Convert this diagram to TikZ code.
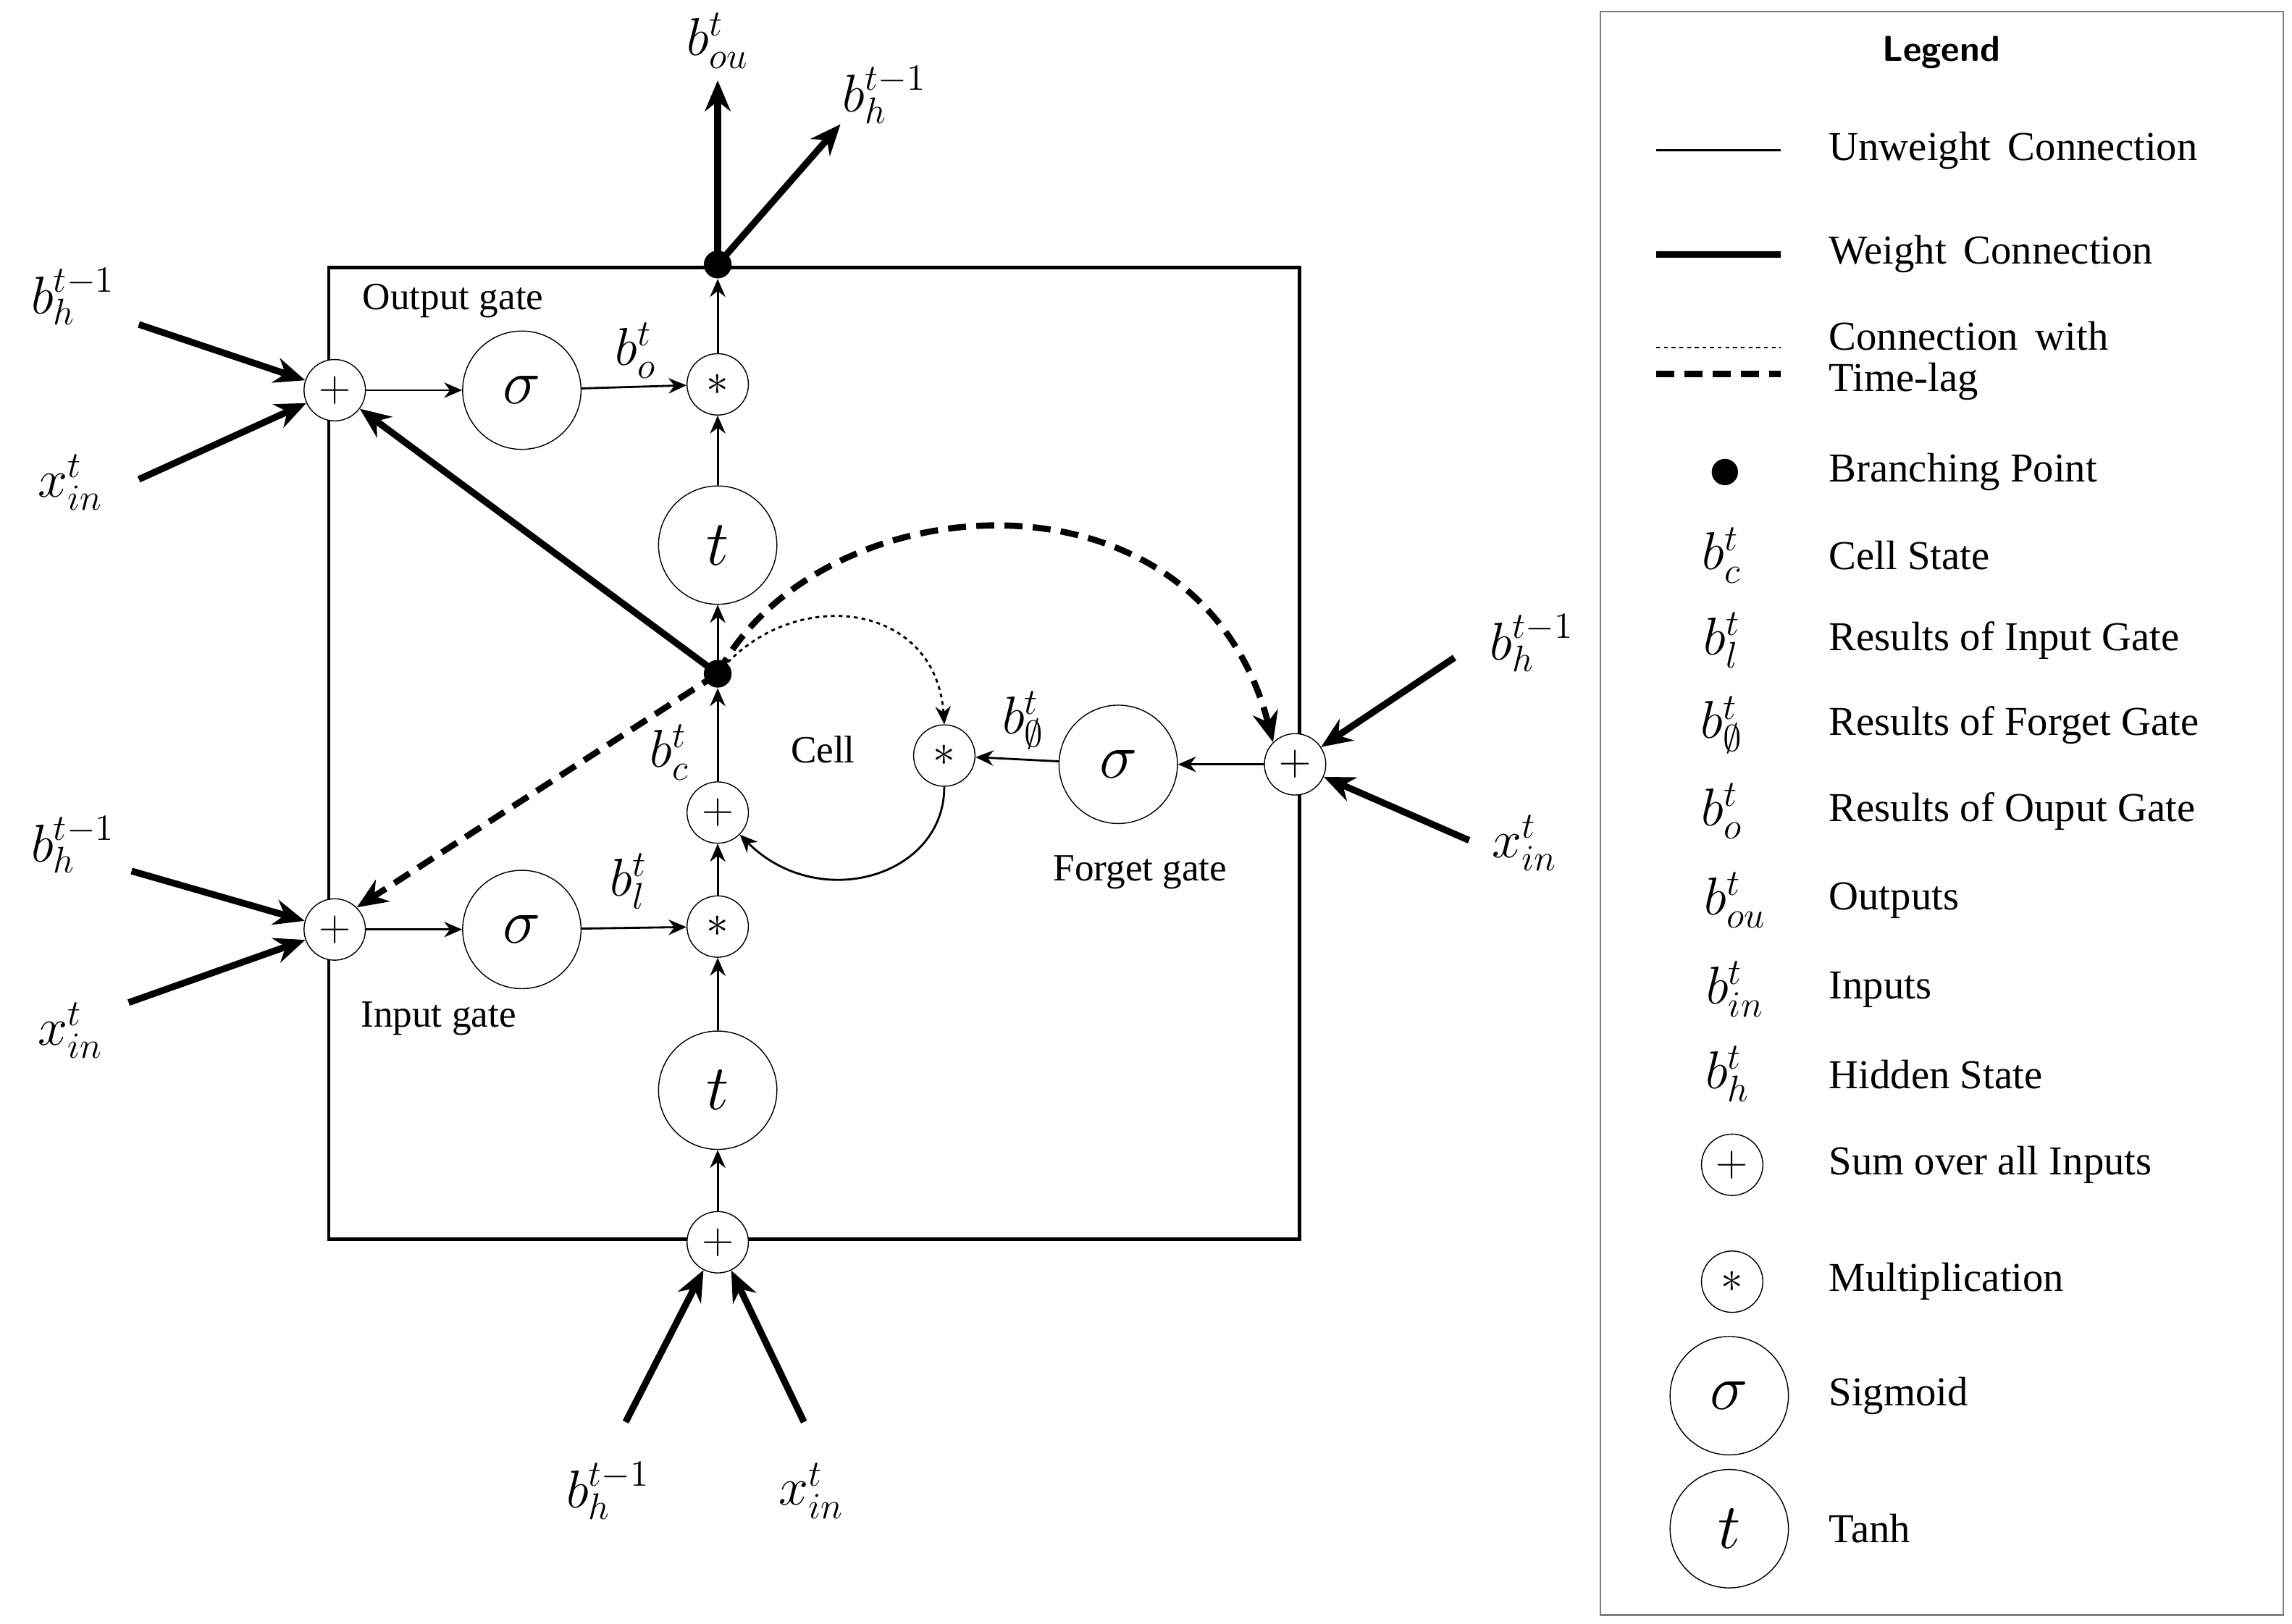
\documentclass[tikz,border=0pt]{standalone}
\usepackage{fontspec}
\setmainfont{Liberation Serif}
\usetikzlibrary{arrows.meta}
\begin{document}
\begin{tikzpicture}[x=0.02cm,y=-0.02cm,
  op/.style={circle,draw,fill=white,minimum size=0.84cm,inner sep=0pt,font=\fontsize{16}{16}\selectfont},
  big/.style={circle,draw,fill=white,minimum size=1.62cm,inner sep=0pt,font=\fontsize{42}{42}\selectfont},
  dot/.style={circle,fill,minimum size=0.38cm,inner sep=0pt},
  lab/.style={font=\fontsize{20}{20}\selectfont},
  txt/.style={font=\fontsize{15}{15}\selectfont},
  thin/.style={-{Stealth[length=7pt,width=6pt]},line width=0.8pt},
  thick/.style={-{Stealth[length=12pt,width=10pt]},line width=2.6pt},
  lag/.style={-{Stealth[length=12pt,width=10pt]},line width=2.4pt,dash pattern=on 7pt off 4pt},
  ltxt/.style={anchor=west,font=\fontsize{16}{16}\selectfont}]
\useasboundingbox (0,0) rectangle (1568,1111);
\draw[line width=1.3pt] (225,183) rectangle (889,848);
% nodes
\node[op] (po) at (229,267) {$+$};
\node[big] (so) at (357,267) {$\sigma$};
\node[op] (mo) at (491,263) {$*$};
\node[dot] (bt) at (491,181) {};
\node[big] (tu) at (491,373) {$t$};
\node[dot] (bm) at (491,461) {};
\node[op] (pc) at (491,556) {$+$};
\node[op] (mi) at (491,634) {$*$};
\node[big] (tl) at (491,746) {$t$};
\node[op] (pb) at (491,850) {$+$};
\node[op] (pi) at (229,636) {$+$};
\node[big] (si) at (357,636) {$\sigma$};
\node[op] (pf) at (886,523) {$+$};
\node[big] (sf) at (765,523) {$\sigma$};
\node[op] (mf) at (646,517) {$*$};
% external labels
\node[lab] (ou) at (491,28) {$b_{ou}^{t}$};
\node[lab] (h1) at (605,65) {$b_{h}^{t-1}$};
\node[lab] (lh1) at (50,203) {$b_{h}^{t-1}$};
\node[lab] (lx1) at (48,330) {$x_{in}^{t}$};
\node[lab] (lh2) at (50,578) {$b_{h}^{t-1}$};
\node[lab] (lx2) at (48,705) {$x_{in}^{t}$};
\node[lab] (rh) at (1048,440) {$b_{h}^{t-1}$};
\node[lab] (rx) at (1043,577) {$x_{in}^{t}$};
\node[lab] (bh) at (416,1020) {$b_{h}^{t-1}$};
\node[lab] (bx) at (555,1020) {$x_{in}^{t}$};
\coordinate (ouE) at (491,55);
\coordinate (h1E) at (575,85);
\coordinate (a1) at (95,222); \coordinate (a2) at (95,328);
\coordinate (a3) at (90,596); \coordinate (a4) at (88,686);
\coordinate (a5) at (995,450); \coordinate (a6) at (1005,575);
\coordinate (a7) at (428,973); \coordinate (a8) at (550,973);
% thick inputs
\draw[thick] (a1) -- (po); \draw[thick] (a2) -- (po);
\draw[thick] (a3) -- (pi); \draw[thick] (a4) -- (pi);
\draw[thick] (a5) -- (pf); \draw[thick] (a6) -- (pf);
\draw[thick] (a7) -- (pb); \draw[thick] (a8) -- (pb);
\draw[thick] (bt.center) -- (ouE);
\draw[thick] (bt.center) -- (h1E);
\draw[thick] (bm.center) -- (po);
% thin flows
\draw[thin] (po) -- (so); \draw[thin] (so) -- (mo);
\draw[thin] (mo) -- (bt); \draw[thin] (tu) -- (mo);
\draw[thin] (bm) -- (tu); \draw[thin] (pc) -- (bm);
\draw[thin] (mi) -- (pc); \draw[thin] (tl) -- (mi);
\draw[thin] (pb) -- (tl);
\draw[thin] (pi) -- (si); \draw[thin] (si) -- (mi);
\draw[thin] (pf) -- (sf); \draw[thin] (sf) -- (mf);
\draw[thin] (mf.south) .. controls (646,600) and (560,625) .. (pc.south east);
% time lag
\draw[lag] (bm.center) .. controls (560,330) and (820,310) .. (pf.north west);
\draw[lag] (bm.center) -- (pi.north east);
\draw[-{Stealth[length=7pt,width=6pt]},line width=0.8pt,dash pattern=on 1.5pt off 1.5pt] (bm.center) .. controls (540,400) and (640,410) .. (mf.north);
% labels inside
\node[txt] at (310,206) {Output gate};
\node[lab] at (435,240) {$b_{o}^{t}$};
\node[lab] at (458,515) {$b_{c}^{t}$};
\node[txt] at (563,513) {Cell};
\node[lab] at (430,603) {$b_{l}^{t}$};
\node[lab] at (700,493) {$b_{\emptyset}^{t}$};
\node[txt] at (780,597) {Forget gate};
\node[txt] at (300,697) {Input gate};
% legend
\draw[line width=0.6pt,draw=gray] (1095,8) rectangle (1562,1105);
\node[font=\sffamily\bfseries\fontsize{14}{14}\selectfont] at (1328,36) {Legend};
\coordinate (l1a) at (1133,103); \coordinate (l1b) at (1218,103);
\draw[line width=0.8pt] (l1a) -- (l1b);
\node[ltxt] at (1245,103) {Unweight\, Connection};
\coordinate (l2a) at (1133,174); \coordinate (l2b) at (1218,174);
\draw[line width=2.6pt] (l2a) -- (l2b);
\node[ltxt] at (1245,174) {Weight\, Connection};
\coordinate (l3a) at (1133,238); \coordinate (l3b) at (1218,238);
\draw[line width=0.6pt,dash pattern=on 1.5pt off 1.5pt] (l3a) -- (l3b);
\coordinate (l4a) at (1133,256); \coordinate (l4b) at (1218,256);
\draw[line width=2.4pt,dash pattern=on 7pt off 4pt] (l4a) -- (l4b);
\node[ltxt,align=left] at (1245,247) {Connection\, with\\Time-lag};
\node[dot,minimum size=0.36cm] at (1180,323) {};
\node[ltxt] at (1245,323) {Branching Point};
\node[lab] at (1178,380) {$b_{c}^{t}$};
\node[ltxt] at (1245,380) {Cell State};
\node[lab] at (1178,438) {$b_{l}^{t}$};
\node[ltxt] at (1245,438) {Results of Input Gate};
\node[lab] at (1178,496) {$b_{\emptyset}^{t}$};
\node[ltxt] at (1245,496) {Results of Forget Gate};
\node[lab] at (1178,555) {$b_{o}^{t}$};
\node[ltxt] at (1245,555) {Results of Ouput Gate};
\node[lab] at (1187,616) {$b_{ou}^{t}$};
\node[ltxt] at (1245,616) {Outputs};
\node[lab] at (1187,677) {$b_{in}^{t}$};
\node[ltxt] at (1245,677) {Inputs};
\node[lab] at (1182,735) {$b_{h}^{t}$};
\node[ltxt] at (1245,735) {Hidden State};
\node[op] at (1185,797) {$+$};
\node[ltxt] at (1245,797) {Sum over all Inputs};
\node[op] at (1185,877) {$*$};
\node[ltxt] at (1245,877) {Multiplication};
\node[big] at (1183,955) {$\sigma$};
\node[ltxt] at (1245,955) {Sigmoid};
\node[big] at (1183,1046) {$t$};
\node[ltxt] at (1245,1046) {Tanh};
\end{tikzpicture}
\end{document}
